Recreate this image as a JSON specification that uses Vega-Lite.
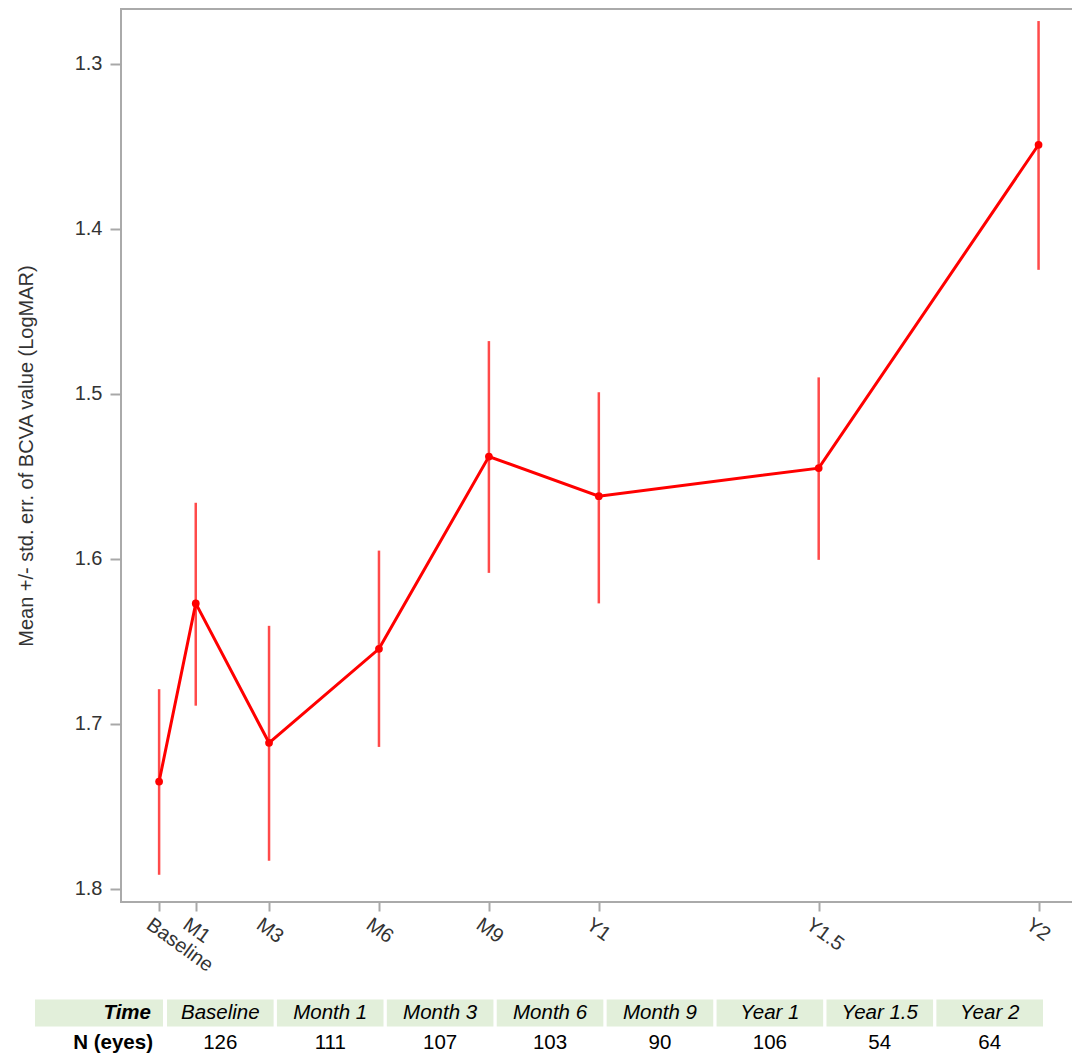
{
  "$schema": "https://vega.github.io/schema/vega-lite/v6.json",
  "padding": {"left": 15, "top": 8, "right": 0, "bottom": 0},
  "autosize": {"type": "pad"},
  "bounds": "flush",
  "spacing": 96,
  "background": "white",
  "config": {
    "font": "Liberation Sans",
    "view": {"stroke": "#aaaaaa", "strokeWidth": 2},
    "axis": {"grid": false, "domain": false, "tickColor": "#a8a8a8", "tickWidth": 2, "labelColor": "#333333", "labelFont": "Liberation Sans", "titleFont": "Liberation Sans"}
  },
  "datasets": {
    "bcva": [
      {"t": 0, "label": "Baseline", "mean": 1.735, "lo": 1.679, "hi": 1.7915},
      {"t": 1, "label": "M1", "mean": 1.627, "lo": 1.566, "hi": 1.689},
      {"t": 3, "label": "M3", "mean": 1.7115, "lo": 1.6406, "hi": 1.783},
      {"t": 6, "label": "M6", "mean": 1.6545, "lo": 1.595, "hi": 1.714},
      {"t": 9, "label": "M9", "mean": 1.538, "lo": 1.468, "hi": 1.6085},
      {"t": 12, "label": "Y1", "mean": 1.562, "lo": 1.499, "hi": 1.627},
      {"t": 18, "label": "Y1.5", "mean": 1.545, "lo": 1.49, "hi": 1.6006},
      {"t": 24, "label": "Y2", "mean": 1.349, "lo": 1.274, "hi": 1.4248}
    ],
    "counts": [
      {"time": "Baseline", "n": 126},
      {"time": "Month 1", "n": 111},
      {"time": "Month 3", "n": 107},
      {"time": "Month 6", "n": 103},
      {"time": "Month 9", "n": 90},
      {"time": "Year 1", "n": 106},
      {"time": "Year 1.5", "n": 54},
      {"time": "Year 2", "n": 64}
    ],
    "rowheads": [
      {"column": "header", "row": "Time", "label": "Time"},
      {"column": "header", "row": "N (eyes)", "label": "N (eyes)"}
    ]
  },
  "vconcat": [
    {
      "width": 952,
      "height": 893,
      "data": {"name": "bcva"},
      "encoding": {
        "x": {
          "field": "t",
          "type": "quantitative",
          "scale": {"domain": [-1.04, 24.94], "nice": false, "zero": false},
          "axis": {
            "title": null,
            "values": [0, 1, 3, 6, 9, 12, 18, 24],
            "labelExpr": "{'0':'Baseline','1':'M1','3':'M3','6':'M6','9':'M9','12':'Y1','18':'Y1.5','24':'Y2'}[datum.value]",
            "labelAngle": 36,
            "labelAlign": "left",
            "labelBaseline": "top",
            "labelFontSize": 20,
            "labelPadding": 3,
            "labelOffset": -5,
            "tickSize": 9,
            "labelOverlap": false,
            "labelBound": false
          }
        }
      },
      "layer": [
        {
          "mark": {"type": "rule", "color": "#ff4a4a", "strokeWidth": 2.5},
          "encoding": {
            "y": {
              "field": "lo",
              "type": "quantitative",
              "scale": {"domain": [1.2667, 1.808], "reverse": true, "nice": false, "zero": false},
              "axis": {
                "title": "Mean +/- std. err. of BCVA value (LogMAR)",
                "values": [1.3, 1.4, 1.5, 1.6, 1.7, 1.8],
                "format": ".1f",
                "labelFontSize": 20,
                "labelPadding": 8,
                "tickSize": 11,
                "titleFontSize": 20,
                "titleFontWeight": "normal",
                "titleColor": "#333333",
                "titlePadding": 38
              }
            },
            "y2": {"field": "hi"}
          }
        },
        {
          "mark": {"type": "line", "color": "#ff0000", "strokeWidth": 3},
          "encoding": {"y": {"field": "mean", "type": "quantitative"}}
        },
        {
          "mark": {"type": "point", "filled": true, "color": "#ff0000", "size": 60, "opacity": 1},
          "encoding": {"y": {"field": "mean", "type": "quantitative"}}
        }
      ]
    },
    {
      "width": 952,
      "height": 60,
      "view": {"stroke": null},
      "resolve": {"scale": {"x": "independent"}},
      "layer": [
        {
          "data": {"name": "rowheads"},
          "encoding": {
            "x": {"field": "column", "type": "nominal", "scale": {"range": [-86, 42], "paddingInner": 0, "paddingOuter": 0}, "axis": null},
            "y": {"field": "row", "type": "nominal", "scale": {"domain": ["Time", "N (eyes)"], "paddingInner": 0.1, "paddingOuter": 0.05}, "axis": null}
          },
          "layer": [
            {
              "transform": [{"filter": "datum.row == 'Time'"}],
              "mark": {"type": "rect", "fill": "#e2efda"}
            },
            {
              "transform": [{"filter": "datum.row == 'Time'"}],
              "mark": {"type": "text", "align": "right", "baseline": "middle", "dx": 52, "fontSize": 20.5, "fontWeight": "bold", "fontStyle": "italic", "color": "#000000"},
              "encoding": {"text": {"field": "label"}}
            },
            {
              "transform": [{"filter": "datum.row != 'Time'"}],
              "mark": {"type": "text", "align": "right", "baseline": "middle", "dx": 54, "fontSize": 20.5, "fontWeight": "bold", "color": "#000000"},
              "encoding": {"text": {"field": "label"}}
            }
          ]
        },
        {
          "data": {"name": "counts"},
          "encoding": {
            "x": {"field": "time", "type": "nominal", "sort": null, "scale": {"range": [46, 922], "paddingInner": 0.03, "paddingOuter": 0}, "axis": null}
          },
          "layer": [
            {
              "mark": {"type": "rect", "fill": "#e2efda"},
              "encoding": {"y": {"datum": "Time", "type": "nominal", "scale": {"domain": ["Time", "N (eyes)"]}, "axis": null}}
            },
            {
              "mark": {"type": "text", "baseline": "middle", "fontSize": 20.5, "fontStyle": "italic", "color": "#000000"},
              "encoding": {
                "y": {"datum": "Time", "type": "nominal"},
                "text": {"field": "time"}
              }
            },
            {
              "mark": {"type": "text", "baseline": "middle", "fontSize": 20.5, "color": "#000000"},
              "encoding": {
                "y": {"datum": "N (eyes)", "type": "nominal"},
                "text": {"field": "n"}
              }
            }
          ]
        }
      ]
    }
  ]
}
